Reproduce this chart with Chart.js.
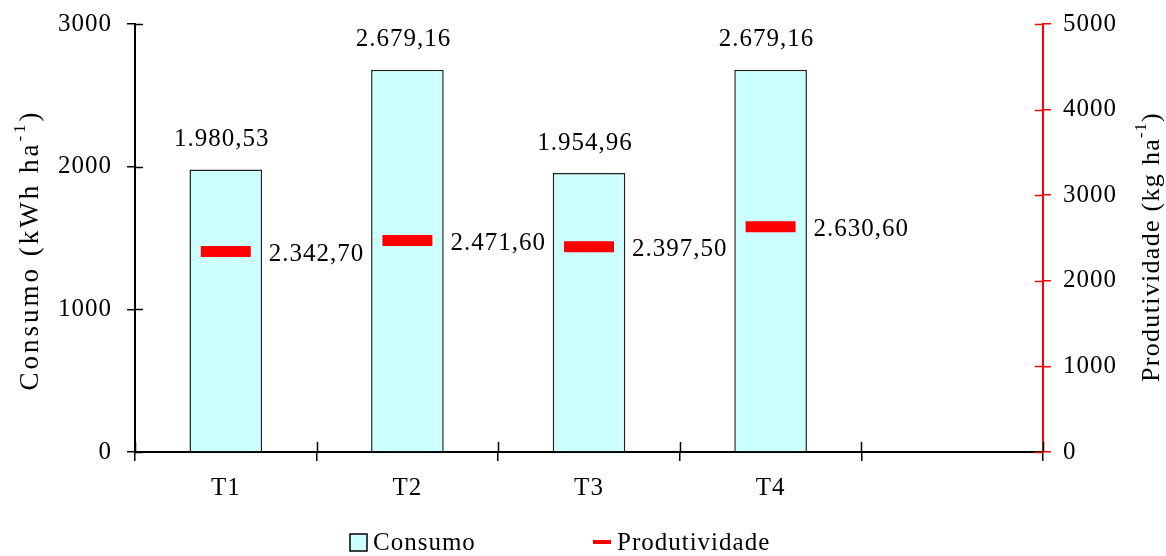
<!DOCTYPE html>
<html>
<head>
<meta charset="utf-8">
<script src="https://cdn.jsdelivr.net/npm/chart.js@4.4.1/dist/chart.umd.min.js"></script>
<style>
  html, body { margin: 0; padding: 0; background: #ffffff; }
  #wrap { width: 1166px; height: 556px; }
</style>
</head>
<body>
<div id="wrap"><canvas id="c" width="1166" height="556"></canvas></div>
<script>
// Treatments and measured values
const categories = ['T1', 'T2', 'T3', 'T4', ''];
const consumo = [1980.53, 2679.16, 1954.96, 2679.16, null];        // kWh ha-1
const produtividade = [2342.70, 2471.60, 2397.50, 2630.60, null];  // kg ha-1
const consumoTicks = [0, 1000, 2000, 3000];
const produtividadeTicks = [0, 1000, 2000, 3000, 4000, 5000];

const FONT = 'Liberation Serif';
const BAR_FILL = '#ccffff';
const RED = '#ff0000';

// Brazilian number format: 1.980,53
function fmtBR(v) {
  const parts = v.toFixed(2).split('.');
  return parts[0].replace(/\B(?=(\d{3})+(?!\d))/g, '.') + ',' + parts[1];
}

// Slightly spaced lettering for every text drawn on the canvas
const spacingPlugin = {
  id: 'spacing',
  beforeLayout(chart) { chart.ctx.letterSpacing = '1px'; },
  beforeDraw(chart) { chart.ctx.letterSpacing = '1px'; }
};

// Tick marks that cross the axis lines (inner half; Chart.js draws the outer half)
const innerTicks = {
  id: 'innerTicks',
  afterDatasetsDraw(chart) {
    const ctx = chart.ctx;
    const { x, y, y1 } = chart.scales;
    ctx.save();
    ctx.lineWidth = 1.5;
    ctx.strokeStyle = '#000';
    ctx.beginPath();
    const n = categories.length;
    for (let i = 0; i <= n; i++) {
      const px = Math.round(x.left + i * x.width / n) + 0.5;
      ctx.moveTo(px, x.top);
      ctx.lineTo(px, x.top - 10);
    }
    consumoTicks.forEach(v => {
      const py = Math.round(y.getPixelForValue(v)) + 0.5;
      ctx.moveTo(y.right, py);
      ctx.lineTo(y.right + 8, py);
    });
    ctx.stroke();
    ctx.strokeStyle = RED;
    ctx.beginPath();
    produtividadeTicks.forEach(v => {
      const py = Math.round(y1.getPixelForValue(v)) + 0.5;
      ctx.moveTo(y1.left, py);
      ctx.lineTo(y1.left - 8, py);
    });
    ctx.stroke();
    ctx.restore();
  }
};

// Value labels above the bars and beside the productivity marks
const valueLabels = {
  id: 'valueLabels',
  afterDatasetsDraw(chart) {
    const ctx = chart.ctx;
    ctx.save();
    ctx.letterSpacing = '1px';
    ctx.font = '25px "' + FONT + '"';
    ctx.fillStyle = '#000';
    ctx.textBaseline = 'middle';
    const barMeta = chart.getDatasetMeta(0);
    barMeta.data.forEach((el, i) => {
      const v = consumo[i];
      if (v == null) return;
      ctx.textAlign = 'center';
      ctx.fillText(fmtBR(v), el.x - 4, el.y - 30);
    });
    const lineMeta = chart.getDatasetMeta(1);
    lineMeta.data.forEach((el, i) => {
      const v = produtividade[i];
      if (v == null) return;
      ctx.textAlign = 'left';
      ctx.fillText(fmtBR(v), el.x + 43, el.y + 3);
    });
    ctx.restore();
  }
};

// Axis titles with superscript units, and the legend row
const titlesAndLegend = {
  id: 'titlesAndLegend',
  afterDraw(chart) {
    const ctx = chart.ctx;

    function rotatedTitle(main, sup, tail, cx, cy, size, spacing) {
      ctx.save();
      ctx.letterSpacing = spacing + 'px';
      ctx.translate(cx, cy);
      ctx.rotate(-Math.PI / 2);
      ctx.fillStyle = '#000';
      ctx.textBaseline = 'middle';
      ctx.textAlign = 'left';
      const big = size + 'px "' + FONT + '"';
      const small = Math.round(size * 0.62) + 'px "' + FONT + '"';
      ctx.font = big;
      const w1 = ctx.measureText(main).width;
      const w3 = ctx.measureText(tail).width;
      ctx.font = small;
      const w2 = ctx.measureText(sup).width;
      let px = -(w1 + w2 + w3) / 2;
      ctx.font = big;
      ctx.fillText(main, px, 0);
      px += w1;
      ctx.font = small;
      ctx.fillText(sup, px, -10);
      px += w2;
      ctx.font = big;
      ctx.fillText(tail, px, 0);
      ctx.restore();
    }
    rotatedTitle('Consumo (kWh ha', '-1', ')', 31, 250, 27, 3);
    rotatedTitle('Produtividade (kg ha', '-1', ')', 1152, 247, 26, 1.3);

    // Legend
    const ds = chart.data.datasets;
    const ly = 542;
    ctx.save();
    ctx.letterSpacing = '1px';
    ctx.font = '25px "' + FONT + '"';
    ctx.textBaseline = 'middle';
    ctx.textAlign = 'left';
    ctx.fillStyle = ds[0].backgroundColor;
    ctx.fillRect(350, ly - 8, 17, 17);
    ctx.strokeStyle = '#000';
    ctx.lineWidth = 1.5;
    ctx.strokeRect(350, ly - 8, 17, 17);
    ctx.fillStyle = '#000';
    ctx.fillText(ds[0].label, 373, ly + 1);
    ctx.strokeStyle = ds[1].pointBorderColor;
    ctx.lineWidth = 4;
    ctx.beginPath();
    ctx.moveTo(593, ly);
    ctx.lineTo(611, ly);
    ctx.stroke();
    ctx.fillText(ds[1].label, 617, ly + 1);
    ctx.restore();
  }
};

const tickFont = { family: FONT, size: 25 };

// Fixed axis box sizes so the plot area sits at 135..1043 x 24..452
function fixVertical(width) {
  return function (scale) {
    scale.width = width;
    scale.paddingTop = 0;
    scale.paddingBottom = 0;
  };
}

new Chart(document.getElementById('c'), {
  data: {
    labels: categories,
    datasets: [
      {
        type: 'bar',
        label: 'Consumo',
        data: consumo,
        yAxisID: 'y',
        backgroundColor: BAR_FILL,
        borderColor: '#222',
        borderWidth: 1.5,
        barPercentage: 0.4,
        categoryPercentage: 1.0,
        order: 2
      },
      {
        type: 'line',
        label: 'Produtividade',
        data: produtividade,
        yAxisID: 'y1',
        showLine: false,
        pointStyle: 'line',
        pointRadius: 25,
        pointHoverRadius: 25,
        pointBorderWidth: 11,
        pointHoverBorderWidth: 11,
        pointBorderColor: RED,
        pointBackgroundColor: RED,
        borderColor: RED,
        order: 1
      }
    ]
  },
  options: {
    responsive: false,
    animation: false,
    events: [],
    layout: { autoPadding: false, padding: { top: 24, left: 0, right: 0, bottom: 44 } },
    plugins: {
      legend: { display: false },
      tooltip: { enabled: false },
      title: { display: false }
    },
    scales: {
      x: {
        type: 'category',
        offset: true,
        grid: {
          offset: true,
          drawOnChartArea: false,
          drawTicks: true,
          tickLength: 9,
          color: '#000',
          lineWidth: 1.5
        },
        border: { display: true, color: '#000', width: 2 },
        ticks: {
          font: tickFont,
          color: '#000',
          padding: 12,
          maxRotation: 0,
          autoSkip: false
        },
        afterFit(scale) { scale.height = 60; }
      },
      y: {
        position: 'left',
        min: 0,
        max: 3000,
        afterBuildTicks(scale) { scale.ticks = consumoTicks.map(v => ({ value: v })); },
        grid: {
          drawOnChartArea: false,
          drawTicks: true,
          tickLength: 8,
          color: '#000',
          lineWidth: 1.5
        },
        border: { display: true, color: '#000', width: 2 },
        ticks: {
          font: tickFont,
          color: '#000',
          padding: 15,
          callback: v => String(v)
        },
        afterFit: fixVertical(135)
      },
      y1: {
        position: 'right',
        min: 0,
        max: 5000,
        afterBuildTicks(scale) { scale.ticks = produtividadeTicks.map(v => ({ value: v })); },
        grid: {
          drawOnChartArea: false,
          drawTicks: true,
          tickLength: 8,
          color: RED,
          lineWidth: 1.5
        },
        border: { display: true, color: RED, width: 2 },
        ticks: {
          font: tickFont,
          color: '#000',
          padding: 12,
          callback: v => String(v)
        },
        afterFit: fixVertical(123)
      }
    }
  },
  plugins: [spacingPlugin, innerTicks, valueLabels, titlesAndLegend]
});
</script>
</body>
</html>
